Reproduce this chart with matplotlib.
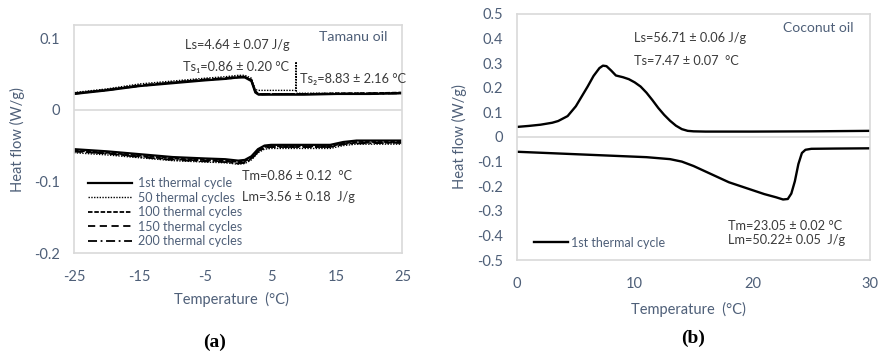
import matplotlib
matplotlib.use("Agg")
import matplotlib.pyplot as plt

plt.rcParams['font.family'] = ['Lato', 'DejaVu Sans']

# ---- (a) Tamanu oil: cooling (upper) and heating (lower) curves ----
cycles = ['1st thermal cycle', '50 thermal cycles', '100 thermal cycles',
          '150 thermal cycles', '200 thermal cycles']

tam_cool_T = [-25, -20, -15, -10, -5, -2, 0, 1, 2, 2.6, 3.1, 5, 8.75, 8.8, 8.85, 10, 15, 20, 25]
tam_cool_1 = [0.022, 0.027, 0.033, 0.037, 0.041, 0.043, 0.045, 0.045, 0.040, 0.024, 0.021, 0.021,
              0.021, 0.021, 0.021, 0.021, 0.022, 0.022, 0.023]
tam_cool_50 = [0.024, 0.029, 0.036, 0.040, 0.044, 0.046, 0.048, 0.048, 0.044, 0.028, 0.027, 0.027,
               0.027, 0.067, 0.023, 0.023, 0.023, 0.023, 0.024]
tam_cool_100 = [0.023, 0.028, 0.034, 0.038, 0.042, 0.044, 0.046, 0.046, 0.042, 0.026, 0.022, 0.022,
                0.022, 0.022, 0.022, 0.022, 0.023, 0.023, 0.024]
tam_cool_150 = [0.023, 0.027, 0.034, 0.038, 0.042, 0.044, 0.046, 0.046, 0.041, 0.025, 0.022, 0.022,
                0.022, 0.022, 0.022, 0.022, 0.022, 0.023, 0.023]
tam_cool_200 = [0.022, 0.028, 0.033, 0.038, 0.042, 0.043, 0.045, 0.046, 0.041, 0.025, 0.021, 0.022,
                0.022, 0.022, 0.022, 0.022, 0.022, 0.022, 0.023]

tam_heat_T = [-25, -20, -15, -10, -5, -2, 0, 1, 2, 3, 4, 5, 10, 14, 16, 18, 25]
tam_heat_1 = [-0.055, -0.058, -0.062, -0.066, -0.068, -0.069, -0.071, -0.070, -0.065, -0.055,
              -0.050, -0.049, -0.049, -0.049, -0.045, -0.043, -0.043]
tam_heat_50 = [-0.060, -0.063, -0.067, -0.071, -0.073, -0.074, -0.076, -0.075, -0.070, -0.060,
               -0.055, -0.054, -0.054, -0.054, -0.050, -0.048, -0.048]
tam_heat_100 = [-0.057, -0.060, -0.064, -0.068, -0.070, -0.071, -0.073, -0.072, -0.067, -0.057,
                -0.052, -0.051, -0.051, -0.051, -0.047, -0.045, -0.045]
tam_heat_150 = [-0.058, -0.061, -0.065, -0.069, -0.071, -0.072, -0.074, -0.073, -0.068, -0.058,
                -0.053, -0.052, -0.052, -0.052, -0.048, -0.046, -0.046]
tam_heat_200 = [-0.058, -0.061, -0.066, -0.070, -0.072, -0.073, -0.075, -0.074, -0.069, -0.059,
                -0.053, -0.052, -0.052, -0.052, -0.048, -0.047, -0.046]

# ---- (b) Coconut oil ----
coc_cool_T = [0, 1, 2, 3, 3.5, 4.3, 5, 5.5, 6, 6.5, 7, 7.3, 7.6, 8, 8.4, 9, 9.5, 10, 10.5, 11,
              11.5, 12, 12.5, 13, 13.5, 14, 14.5, 15, 16, 20, 25, 30]
coc_cool = [0.041, 0.045, 0.050, 0.058, 0.065, 0.085, 0.125, 0.165, 0.205, 0.248, 0.280, 0.290,
            0.288, 0.270, 0.250, 0.243, 0.235, 0.222, 0.205, 0.180, 0.150, 0.118, 0.090, 0.066,
            0.046, 0.032, 0.025, 0.023, 0.022, 0.022, 0.023, 0.025]
coc_heat_T = [0, 4, 8, 11, 13, 14, 15, 16, 17, 18, 19, 20, 21, 22, 22.6, 23, 23.3, 23.6, 23.9,
              24.2, 24.5, 25, 27, 30]
coc_heat = [-0.060, -0.068, -0.076, -0.082, -0.090, -0.100, -0.118, -0.140, -0.162, -0.184,
            -0.200, -0.216, -0.232, -0.245, -0.254, -0.252, -0.230, -0.180, -0.110, -0.065,
            -0.052, -0.048, -0.047, -0.046]

blue_gray = '#4E5F78'
dark = '#3A3A3A'
styles = ['-', (0, (1, 1)), (0, (2.5, 1)), (0, (4, 2.5)), (0, (5, 2, 1, 2))]
widths = [1.6, 1.0, 1.3, 1.3, 1.3]

fig = plt.figure(figsize=(8.83, 3.54), dpi=100)
ax1 = fig.add_axes([0.0838, 0.285, 0.372, 0.644])
ax2 = fig.add_axes([0.5855, 0.2655, 0.40, 0.695])

cool = [tam_cool_1, tam_cool_50, tam_cool_100, tam_cool_150, tam_cool_200]
heat = [tam_heat_1, tam_heat_50, tam_heat_100, tam_heat_150, tam_heat_200]
for i in range(5):
    ax1.plot(tam_heat_T, heat[i], color='black', ls=styles[i], lw=widths[i], label=cycles[i])
    ax1.plot(tam_cool_T, cool[i], color='black', ls=styles[i], lw=widths[i])

ax2.plot(coc_cool_T, coc_cool, color='black', lw=1.7)
ax2.plot(coc_heat_T, coc_heat, color='black', lw=1.7, label='1st thermal cycle')

ax1.set_xlim(-25, 25)
ax1.set_ylim(-0.2, 0.118)
ax1.set_xticks([-25, -15, -5, 5, 15, 25])
ax1.set_yticks([-0.2, -0.1, 0, 0.1])
ax1.set_yticklabels(['-0.2', '-0.1', '0', '0.1'])
ax1.set_xticklabels(['-25', '-15', '-5', '5', '15', '25'])

ax2.set_xlim(0, 30)
ax2.set_ylim(-0.5, 0.5)
ax2.set_xticks([0, 10, 20, 30])
ax2.set_yticks([-0.5, -0.4, -0.3, -0.2, -0.1, 0, 0.1, 0.2, 0.3, 0.4, 0.5])
ax2.set_yticklabels(['-0.5', '-0.4', '-0.3', '-0.2', '-0.1', '0', '0.1', '0.2', '0.3', '0.4', '0.5'])

for ax in (ax1, ax2):
    ax.axhline(0, color='#D9D9D9', lw=1.2, zorder=0)
    for s in ax.spines.values():
        s.set_color('#D9D9D9')
        s.set_linewidth(1.2)
    ax.tick_params(length=0, labelsize=10.5, colors=blue_gray, pad=10)
    ax.tick_params(axis='x', pad=12)
    ax.set_xlabel('Temperature  (°C)', fontsize=10.5, color=blue_gray)
    ax.set_ylabel('Heat flow (W/g)', fontsize=10.5, color=blue_gray)

ax1.xaxis.set_label_coords(0.48, -0.17)
ax1.yaxis.set_label_coords(-0.149, 0.5)
ax2.xaxis.set_label_coords(0.485, -0.17)
ax2.yaxis.set_label_coords(-0.142, 0.5)

leg1 = ax1.legend(loc='upper left', bbox_to_anchor=(0.025, 0.36), frameon=False, fontsize=9,
                  borderpad=0, labelspacing=0.2, handlelength=3.5, handletextpad=0.45)
for t in leg1.get_texts():
    t.set_color(blue_gray)
leg2 = ax2.legend(loc='lower left', bbox_to_anchor=(0.03, 0.02), frameon=False, fontsize=9,
                  borderpad=0, handlelength=2.7, handletextpad=0.3)
for t in leg2.get_texts():
    t.set_color(blue_gray)

tk = dict(fontsize=9.2, color=dark, va='center', ha='left')
ax1.text(0.338, 0.912, 'Ls=4.64 ± 0.07 J/g', transform=ax1.transAxes, **tk)
ax1.text(0.332, 0.816, 'Ts\u2081=0.86 ± 0.20 °C', transform=ax1.transAxes, **tk)
ax1.text(0.689, 0.763, 'Ts\u2082=8.83 ± 2.16 °C', transform=ax1.transAxes, **tk)
ax1.text(0.512, 0.338, 'Tm=0.86 ± 0.12  °C', transform=ax1.transAxes, **tk)
ax1.text(0.512, 0.246, 'Lm=3.56 ± 0.18  J/g', transform=ax1.transAxes, **tk)
ax1.text(0.747, 0.947, 'Tamanu oil', transform=ax1.transAxes, fontsize=10.2, color=blue_gray,
         va='center', ha='left')

ax2.text(0.331, 0.902, 'Ls=56.71 ± 0.06 J/g', transform=ax2.transAxes, **tk)
ax2.text(0.331, 0.809, 'Ts=7.47 ± 0.07  °C', transform=ax2.transAxes, **tk)
ax2.text(0.597, 0.138, 'Tm=23.05 ± 0.02 °C', transform=ax2.transAxes, **tk)
ax2.text(0.597, 0.081, 'Lm=50.22± 0.05  J/g', transform=ax2.transAxes, **tk)
ax2.text(0.753, 0.943, 'Coconut oil', transform=ax2.transAxes, fontsize=10, color=blue_gray,
         va='center', ha='left')

fig.text(215 / 883, 1 - 342 / 354, '(a)', fontsize=14, fontweight='bold', family='Liberation Serif',
         ha='center', va='center', color='black')
fig.text(693 / 883, 1 - 338 / 354, '(b)', fontsize=14, fontweight='bold', family='Liberation Serif',
         ha='center', va='center', color='black')

fig.savefig('out.png', dpi=100)
